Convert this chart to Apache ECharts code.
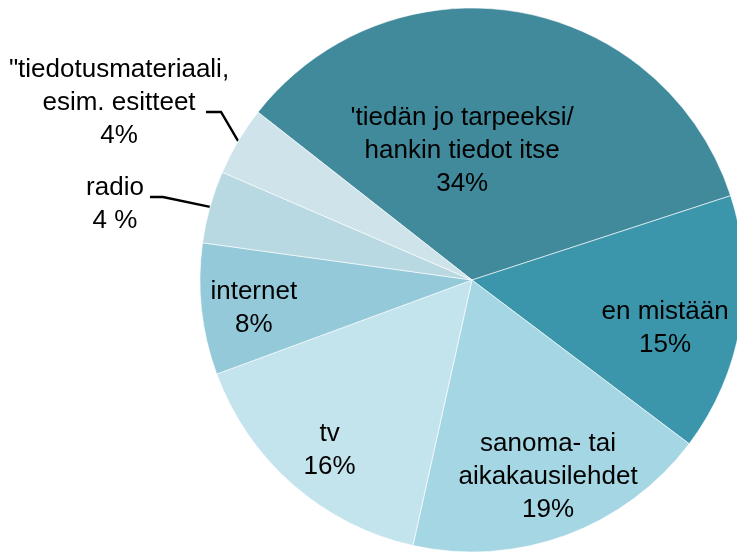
<!DOCTYPE html>
<html>
<head>
<meta charset="utf-8">
<script src="https://cdn.jsdelivr.net/npm/echarts@6/dist/echarts.min.js"></script>
<style>
  html, body { margin: 0; padding: 0; background: #ffffff; }
  #chart { width: 737px; height: 553px; }
</style>
</head>
<body>
<div id="chart"></div>
<script>
// ---- data ----
const categories = [
  "'tiedän jo tarpeeksi/\nhankin tiedot itse",
  "en mistään",
  "sanoma- tai\naikakausilehdet",
  "tv",
  "internet",
  "radio",
  "\"tiedotusmateriaali,\nesim. esitteet"
];
// slice sizes (labels show the rounded shares)
const values = [34.4, 15.3, 18.2, 15.9, 7.8, 4.3, 4.1];
const valueLabels = ["34%", "15%", "19%", "16%", "8%", "4 %", "4%"];

// ---- styles ----
const colors = ['#408a9c', '#3c96ab', '#a4d6e4', '#c4e4ed', '#94c9d9', '#b8d8e2', '#cfe3eb'];
// label offset from the default inside position (for inside labels)
const insideOffsets = [[-34, 8], [56, 25], [28, 66], [-51, 66], [-80, 13], null, null];
// outside label placement: label centre and leader knee/end
const outsideLayout = {
  5: { x: 115, y: 204, knee: [163, 197], end: [150, 197] },
  6: { x: 119, y: 103, knee: [221, 112], end: [206, 112] }
};

const chart = echarts.init(document.getElementById('chart'));

const seriesData = categories.map((name, i) => {
  const outside = outsideLayout[i] != null;
  return {
    name: name,
    value: values[i],
    itemStyle: { color: colors[i] },
    label: {
      position: outside ? 'outside' : 'inside',
      formatter: name + '\n' + valueLabels[i]
    },
    labelLine: {
      show: outside,
      smooth: false,
      lineStyle: { color: '#000000', width: 2.4, opacity: 1 }
    }
  };
});

chart.setOption({
  animation: false,
  series: [{
    type: 'pie',
    center: [472, 280],
    radius: 272,
    startAngle: 141.9,
    clockwise: true,
    avoidLabelOverlap: false,
    itemStyle: { borderColor: '#ffffff', borderWidth: 0.6 },
    label: {
      show: true,
      color: '#000000',
      fontFamily: 'Liberation Sans, Arial, sans-serif',
      fontSize: 26,
      lineHeight: 33,
      align: 'center'
    },
    labelLine: {
      show: false,
      length: 20,
      length2: 15,
      lineStyle: { color: '#000000', width: 2.4, opacity: 1 }
    },
    labelLayout: function (params) {
      const i = params.dataIndex;
      const o = outsideLayout[i];
      if (o) {
        const start = params.labelLinePoints ? params.labelLinePoints[0] : o.knee;
        return {
          x: o.x,
          y: o.y,
          align: 'center',
          verticalAlign: 'middle',
          labelLinePoints: [start, o.knee, o.end]
        };
      }
      const off = insideOffsets[i];
      return { dx: off[0], dy: off[1] };
    },
    data: seriesData
  }]
});
</script>
</body>
</html>
